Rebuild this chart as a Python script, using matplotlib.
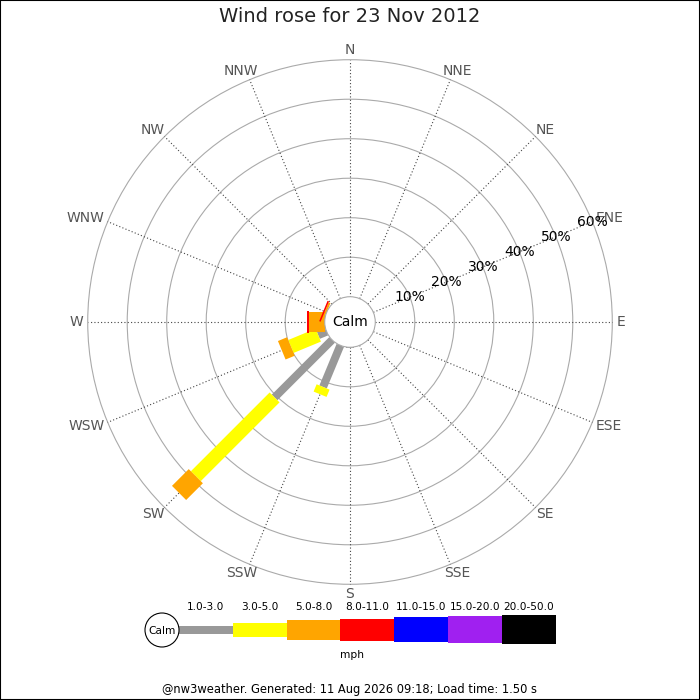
import numpy as np
import matplotlib
matplotlib.use("Agg")
import matplotlib.pyplot as plt
from matplotlib.patches import Polygon, Circle, Rectangle

# compass sectors, clockwise from north
directions = ["N", "NNE", "NE", "ENE", "E", "ESE", "SE", "SSE",
              "S", "SSW", "SW", "WSW", "W", "WNW", "NW", "NNW"]

# percent of observations per sector and speed band (mph)
band_1_3 = [0, 0, 0, 0, 0, 0, 0, 0, 0.3, 11.4, 20.6, 2.3, 0, 0, 0, 0]
band_3_5 = [0, 0, 0, 0, 0, 0, 0, 0, 0, 2.0, 28.2, 7.5, 0, 0, 0, 0]
band_5_8 = [0, 0, 0, 0, 0, 0, 0, 0, 0, 0, 6.0, 2.5, 4.1, 0.5, 0, 0]
band_8_11 = [0, 0, 0, 0, 0, 0, 0, 0, 0, 0, 0, 0, 0.5, 0.4, 0, 0]
band_11_15 = [0] * 16
band_15_20 = [0] * 16
band_20_50 = [0] * 16

band_labels = ["1.0-3.0", "3.0-5.0", "5.0-8.0", "8.0-11.0",
               "11.0-15.0", "15.0-20.0", "20.0-50.0"]
band_colors = ["#999999", "#ffff00", "#ffa500", "#ff0000",
               "#0000ff", "#a020f0", "#000000"]
band_widths_px = [8, 14, 20, 22, 25, 27, 29]

ring_pcts = [10, 20, 30, 40, 50, 60]

PX = 3.95          # pixels per percent
CALM = 6.4         # calm circle radius, percent units
CX, CY = 350, 322  # centre of rose in pixels

fig = plt.figure(figsize=(7, 7), dpi=100)
ax = fig.add_axes([0, 0, 1, 1])
ax.set_xlim(-CX / PX, (700 - CX) / PX)
ax.set_ylim(-(700 - CY) / PX, CY / PX)
ax.set_aspect("equal")
ax.axis("off")

outer = CALM + ring_pcts[-1]
for p in ring_pcts:
    ax.add_patch(Circle((0, 0), CALM + p, fill=False, ec="#aaaaaa", lw=0.8, zorder=1))

angles = np.deg2rad(np.arange(16) * 22.5)
for i, th in enumerate(angles):
    u = np.array([np.sin(th), np.cos(th)])
    ax.plot([CALM * u[0], outer * u[0]], [CALM * u[1], outer * u[1]],
            ls=(0, (1, 2)), color="#444444", lw=0.8, zorder=2)
    name = directions[i]
    w = {"N": 0.748, "E": 0.632, "S": 0.635, "W": 0.989}
    hw = sum(w[c] for c in name) * 13.9 / 2
    hh = 5
    cx = (267 * u[0] + u[0] * hw) / PX
    cy = (267 * u[1] + u[1] * hh) / PX
    ax.text(cx, cy, name, ha="center", va="center", fontsize=10, color="#555555")

# bars
bands = [band_1_3, band_3_5, band_5_8, band_8_11, band_11_15, band_15_20, band_20_50]
for i, th in enumerate(angles):
    u = np.array([np.sin(th), np.cos(th)])
    perp = np.array([np.cos(th), -np.sin(th)])
    r0 = CALM
    for b, vals in enumerate(bands):
        v = vals[i]
        if v <= 0:
            continue
        r1 = r0 + v
        hw = band_widths_px[b] / PX / 2
        pts = [r0 * u + hw * perp, r1 * u + hw * perp,
               r1 * u - hw * perp, r0 * u - hw * perp]
        ax.add_patch(Polygon(pts, closed=True, fc=band_colors[b], ec="none", zorder=3 + b))
        r0 = r1

ax.add_patch(Circle((0, 0), CALM, fc="white", ec="#aaaaaa", lw=0.8, zorder=20))
ax.text(0, 0, "Calm", ha="center", va="center", fontsize=10, zorder=21)

ene = np.deg2rad(67.5)
for p in ring_pcts:
    r = CALM + p
    ax.text(r * np.sin(ene), r * np.cos(ene), f"{p}%", ha="center", va="center",
            fontsize=10, color="black", zorder=22)

# legend in pixel coordinates
lg = fig.add_axes([0, 0, 1, 1])
lg.set_xlim(0, 700)
lg.set_ylim(700, 0)
lg.axis("off")
lg.patch.set_alpha(0)
lg.add_patch(Circle((162, 630), 17, fc="white", ec="black", lw=0.8, zorder=5))
lg.text(162, 631, "Calm", ha="center", va="center", fontsize=7.7, zorder=6)
x0, seg = 179, 53.8
for b in range(len(band_labels)):
    h = band_widths_px[b]
    lg.add_patch(Rectangle((x0 + b * seg, 629.5 - h / 2), seg, h,
                           fc=band_colors[b], ec="none", zorder=3))
    lg.text(x0 + b * seg + seg / 2, 607, band_labels[b], ha="center", va="center",
            fontsize=7.6, color="black")
lg.text(352, 655, "mph", ha="center", va="center", fontsize=7.7)

fig.text(0.5, 1 - 17 / 700, "Wind rose for 23 Nov 2012", ha="center", va="center",
         fontsize=14, color="#222222")
fig.text(0.5, 1 - 690 / 700, "@nw3weather. Generated: 11 Aug 2026 09:18; Load time: 1.50 s",
         ha="center", va="center", fontsize=8.3, color="black")
fig.add_artist(Rectangle((0, 0), 1, 1, transform=fig.transFigure, fill=False,
                         ec="black", lw=1.5))

fig.savefig("out.png", dpi=100)
